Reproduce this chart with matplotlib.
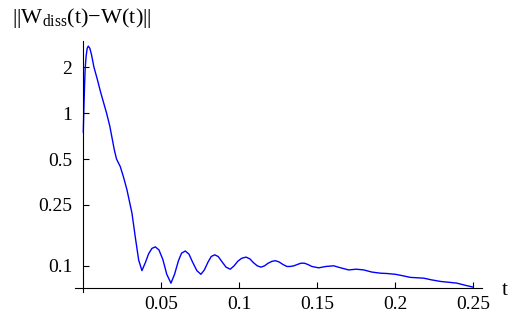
import matplotlib
matplotlib.use("Agg")
import matplotlib.pyplot as plt
from matplotlib.ticker import FixedLocator, FixedFormatter, NullLocator

plt.rcParams["font.family"] = ["Liberation Serif", "DejaVu Serif"]
plt.rcParams["mathtext.fontset"] = "custom"
plt.rcParams["mathtext.rm"] = "Liberation Serif"

# values
t = [0.0, 0.0004, 0.0008, 0.0012, 0.0018, 0.0025, 0.0032, 0.0042, 0.0053,
     0.0068, 0.009, 0.011, 0.013, 0.0149, 0.017, 0.0199, 0.0213, 0.0237,
     0.0258, 0.028, 0.0312, 0.0333, 0.0355, 0.0376, 0.0398, 0.0419, 0.044, 0.0462,
     0.0485, 0.051, 0.0535, 0.0562, 0.0585, 0.061, 0.063, 0.0654, 0.0678,
     0.070, 0.0728, 0.0754, 0.0776, 0.080, 0.082, 0.0842, 0.0865, 0.089,
     0.0915, 0.0942, 0.0967, 0.099, 0.1015, 0.1043, 0.1068, 0.109, 0.1115,
     0.1139, 0.1162, 0.1185, 0.121, 0.1231, 0.1255, 0.128, 0.1305, 0.1327,
     0.135, 0.1372, 0.1395, 0.1417, 0.144, 0.1465, 0.1509, 0.1555, 0.1605,
     0.165, 0.1701, 0.175, 0.1797, 0.185, 0.1904, 0.195, 0.2, 0.205, 0.2096,
     0.2182, 0.223, 0.229, 0.2345, 0.2395, 0.245, 0.25]
w = [0.75, 1.1, 1.5, 1.95, 2.35, 2.65, 2.74, 2.65, 2.4,
     2.0, 1.66, 1.38, 1.17, 1.0, 0.82, 0.573, 0.5, 0.446,
     0.38, 0.314, 0.221, 0.155, 0.109, 0.093, 0.105, 0.12, 0.13, 0.133,
     0.127, 0.11, 0.088, 0.077, 0.088, 0.108, 0.121, 0.125, 0.119,
     0.106, 0.093, 0.088, 0.094, 0.106, 0.115, 0.118, 0.115, 0.106,
     0.098, 0.095, 0.1, 0.107, 0.112, 0.114, 0.111, 0.105, 0.1,
     0.098, 0.1, 0.104, 0.107, 0.108, 0.106, 0.102, 0.099, 0.099,
     0.1, 0.102, 0.104, 0.104, 0.102, 0.099, 0.097, 0.099, 0.1,
     0.097, 0.094, 0.095, 0.094, 0.091, 0.0895, 0.089, 0.088, 0.086, 0.084,
     0.083, 0.081, 0.079, 0.078, 0.077, 0.0745, 0.0725]

xticks = [0.05, 0.1, 0.15, 0.2, 0.25]
xlabels = ["0.05", "0.1", "0.15", "0.2", "0.25"]
yticks = [0.1, 0.25, 0.5, 1, 2]
ylabels = ["0.1", "0.25", "0.5", "1", "2"]

fig = plt.figure(figsize=(5.09, 3.24), dpi=100)
ax = fig.add_axes([0.1477, 0.0988, 0.799, 0.7747])

ax.plot(t, w, color="blue", lw=1.0)

ax.set_yscale("log")
ax.set_xlim(-0.0052, 0.2555)
ax.set_ylim(0.0674, 2.96)

ax.spines["top"].set_visible(False)
ax.spines["right"].set_visible(False)
ax.spines["left"].set_position(("data", 0))
ax.spines["bottom"].set_position(("data", 0.0719))
for s in ["left", "bottom"]:
    ax.spines[s].set_linewidth(0.8)

ax.xaxis.set_major_locator(FixedLocator(xticks))
ax.xaxis.set_major_formatter(FixedFormatter(xlabels))
ax.yaxis.set_major_locator(FixedLocator(yticks))
ax.yaxis.set_major_formatter(FixedFormatter(ylabels))
ax.yaxis.set_minor_locator(NullLocator())
ax.xaxis.set_minor_locator(NullLocator())
ax.tick_params(axis="both", direction="in", length=4, width=0.8, labelsize=14)
ax.tick_params(axis="x", pad=6)
ax.tick_params(axis="y", pad=8)

fig.text(12 / 509, 1 - 23 / 324, r"||W$_{\mathrm{diss}}$(t)−W(t)||",
         fontsize=16, ha="left", va="baseline")
fig.text(502 / 509, 1 - 295 / 324, "t", fontsize=15, ha="left", va="baseline")

fig.savefig("out.png", dpi=100)
